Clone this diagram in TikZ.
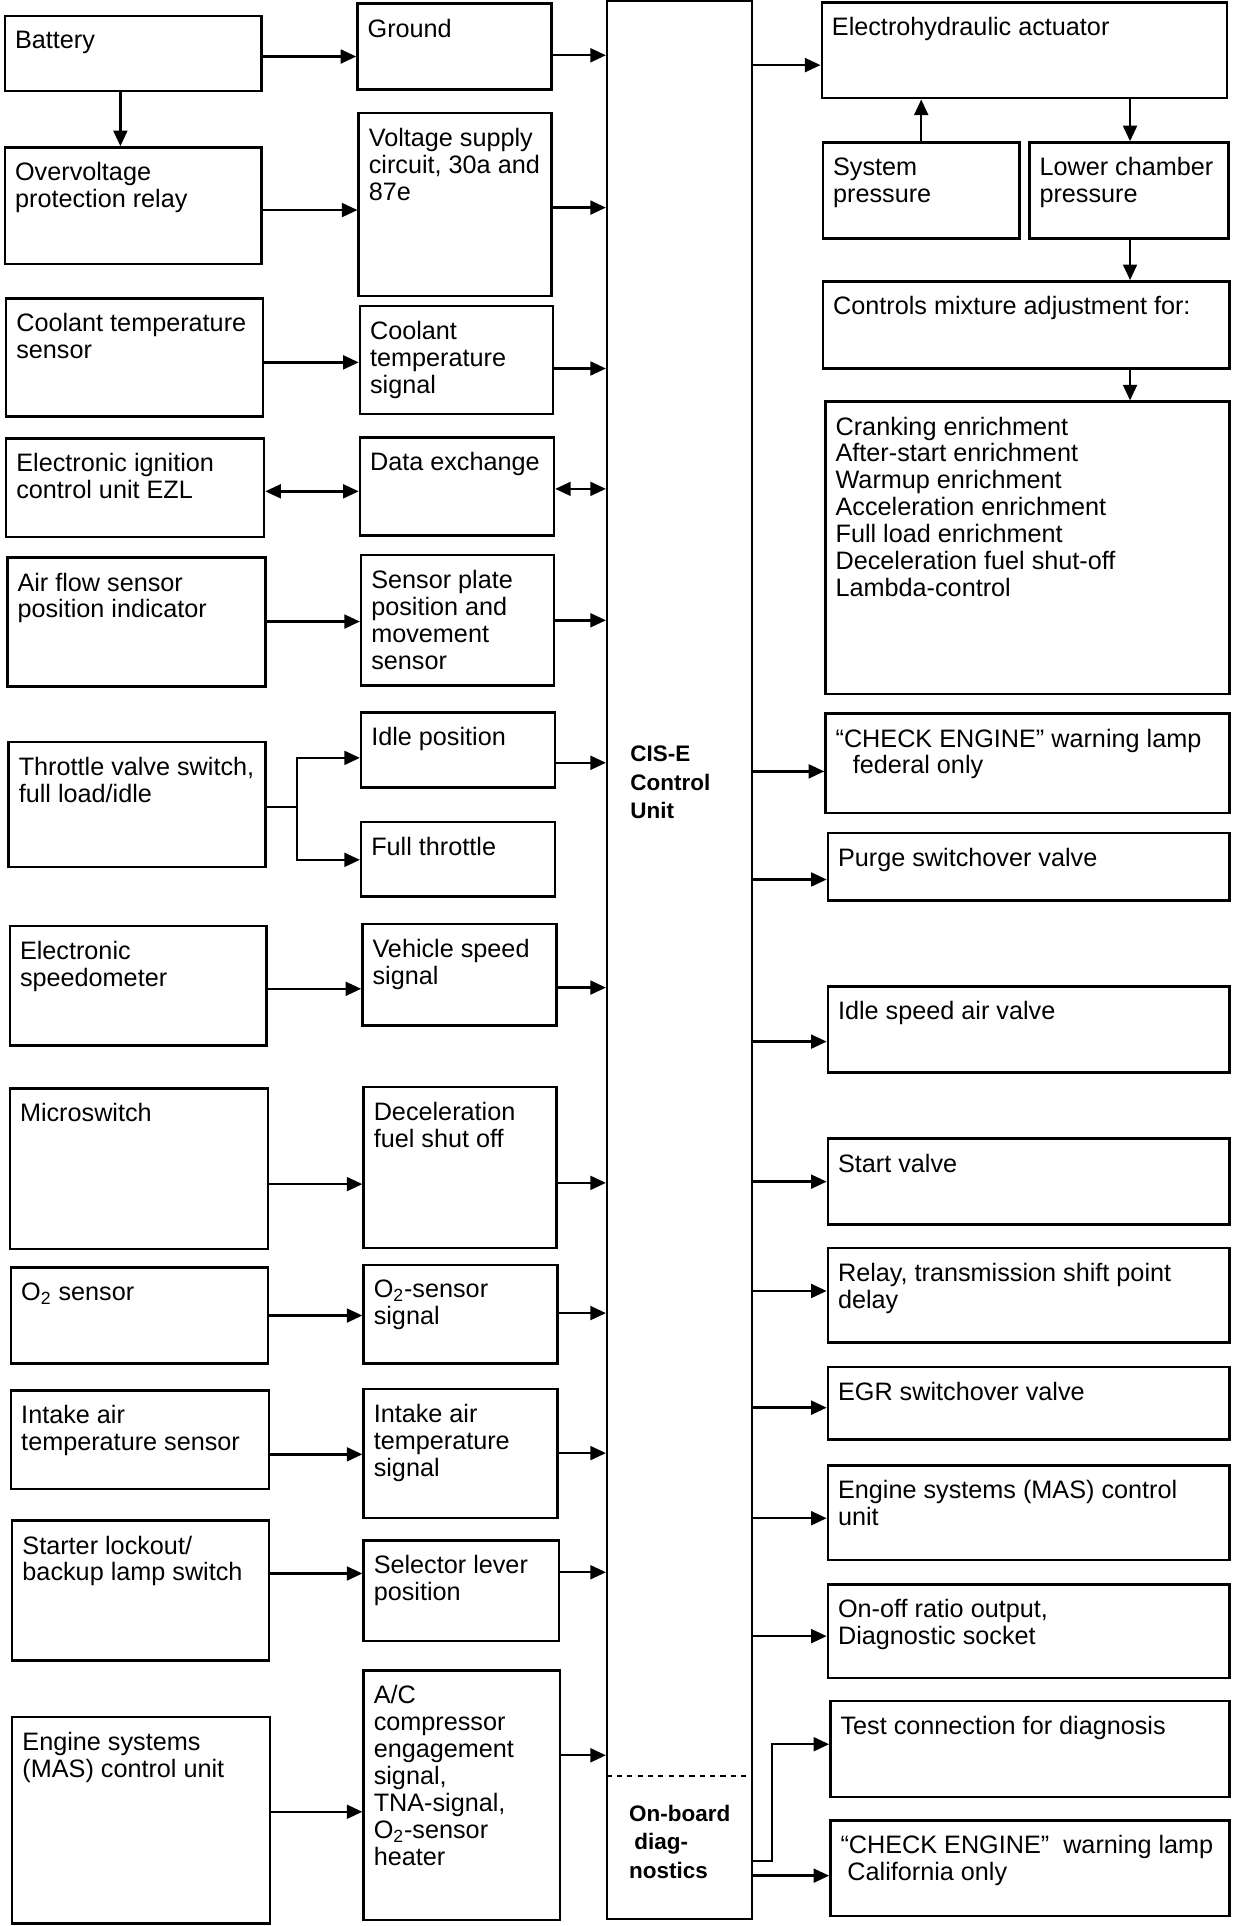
\documentclass[tikz,border=0pt]{standalone}
\usepackage{fontspec}
\setmainfont{Liberation Sans}
\usetikzlibrary{arrows.meta,fit}
\tikzset{
  blk/.style={draw,line width=1.4pt,inner sep=0pt},
  txt/.style={anchor=north west,inner sep=0pt,align=left,font=\fontsize{14.6}{15.6}\selectfont},
  btxt/.style={txt,font=\fontsize{13}{16.5}\selectfont\bfseries},
  ar/.style={-{Triangle[length=9pt,width=8pt]},line width=1.4pt},
  dar/.style={{Triangle[length=9pt,width=8pt]}-{Triangle[length=9pt,width=8pt]},line width=1.4pt},
}

\begin{document}
\begin{tikzpicture}[x=0.025cm,y=-0.025cm]
\useasboundingbox (0,0) rectangle (1016,1568);
% inputs
\node[blk,fit={(4,13)(213,74)}] (bat) {};
\node[txt] (batT) at ([shift={(9,13)}]bat.north west) {Battery};
\node[blk,fit={(4,120)(213,215)}] (ovp) {};
\node[txt] (ovpT) at ([shift={(9,13)}]ovp.north west) {Overvoltage\\protection relay};
\node[blk,fit={(5,243)(214,339)}] (cts) {};
\node[txt] (ctsT) at ([shift={(9,13)}]cts.north west) {Coolant temperature\\sensor};
\node[blk,fit={(5,357)(215,437)}] (ezl) {};
\node[txt] (ezlT) at ([shift={(9,13)}]ezl.north west) {Electronic ignition\\control unit EZL};
\node[blk,fit={(6,454)(216,559)}] (afs) {};
\node[txt] (afsT) at ([shift={(9,13)}]afs.north west) {Air flow sensor\\position indicator};
\node[blk,fit={(7,604)(216,706)}] (tvs) {};
\node[txt] (tvsT) at ([shift={(9,13)}]tvs.north west) {Throttle valve switch,\\full load/idle};
\node[blk,fit={(8,754)(217,851)}] (spd) {};
\node[txt] (spdT) at ([shift={(9,13)}]spd.north west) {Electronic\\speedometer};
\node[blk,fit={(8,886)(218,1017)}] (msw) {};
\node[txt] (mswT) at ([shift={(9,13)}]msw.north west) {Microswitch};
\node[blk,fit={(9,1032)(218,1110)}] (oxs) {};
\node[txt] (oxsT) at ([shift={(9,13)}]oxs.north west) {O\textsubscript{2} sensor};
\node[blk,fit={(9,1132)(219,1212)}] (iat) {};
\node[txt] (iatT) at ([shift={(9,13)}]iat.north west) {Intake air\\temperature sensor};
\node[blk,fit={(10,1238)(219,1352)}] (slo) {};
\node[txt] (sloT) at ([shift={(9,13)}]slo.north west) {Starter lockout/\\backup lamp switch};
\node[blk,fit={(10,1398)(220,1566)}] (mas) {};
\node[txt] (masT) at ([shift={(9,13)}]mas.north west) {Engine systems\\(MAS) control unit};
% signals
\node[blk,fit={(291,3)(449,73)}] (gnd) {};
\node[txt] (gndT) at ([shift={(9,13)}]gnd.north west) {Ground};
\node[blk,fit={(292,92)(449,241)}] (vsc) {};
\node[txt] (vscT) at ([shift={(9,13)}]vsc.north west) {Voltage supply\\circuit, 30a and\\87e};
\node[blk,fit={(293,249)(450,337)}] (cti) {};
\node[txt] (ctiT) at ([shift={(9,13)}]cti.north west) {Coolant\\temperature\\signal};
\node[blk,fit={(293,356)(451,436)}] (dex) {};
\node[txt] (dexT) at ([shift={(9,13)}]dex.north west) {Data exchange};
\node[blk,fit={(294,452)(451,558)}] (spp) {};
\node[txt] (sppT) at ([shift={(9,13)}]spp.north west) {Sensor plate\\position and\\movement\\sensor};
\node[blk,fit={(294,580)(452,641)}] (idl) {};
\node[txt] (idlT) at ([shift={(9,13)}]idl.north west) {Idle position};
\node[blk,fit={(294,669)(452,730)}] (fth) {};
\node[txt] (fthT) at ([shift={(9,13)}]fth.north west) {Full throttle};
\node[blk,fit={(295,752)(453,835)}] (vss) {};
\node[txt] (vssT) at ([shift={(9,13)}]vss.north west) {Vehicle speed\\signal};
\node[blk,fit={(296,885)(453,1016)}] (dfs) {};
\node[txt] (dfsT) at ([shift={(9,13)}]dfs.north west) {Deceleration\\fuel shut off};
\node[blk,fit={(296,1030)(454,1110)}] (osg) {};
\node[txt] (osgT) at ([shift={(9,13)}]osg.north west) {O\textsubscript{2}-sensor\\signal};
\node[blk,fit={(296,1131)(454,1236)}] (ias) {};
\node[txt] (iasT) at ([shift={(9,13)}]ias.north west) {Intake air\\temperature\\signal};
\node[blk,fit={(296,1254)(455,1336)}] (slp) {};
\node[txt] (slpT) at ([shift={(9,13)}]slp.north west) {Selector lever\\position};
\node[blk,fit={(296,1360)(456,1563)}] (acs) {};
\node[txt] (acsT) at ([shift={(9,13)}]acs.north west) {A/C\\compressor\\engagement\\signal,\\TNA-signal,\\O\textsubscript{2}-sensor\\heater};
% control unit
\node[blk,line width=1pt,fit={(494,1)(612,1562)}] (cu) {};
\node[inner sep=0pt,fit={(494,1446)(612,1562)}] (obd) {};
\draw[line width=1pt,dashed] (obd.north west) -- (obd.north east);
\node[btxt] (cuT) at (513,607) {CIS-E\\Control\\Unit};
\node[btxt] (obdT) at (512,1469) {On-board\\\hspace*{3pt}diag-\\nostics};
% outputs
\node[blk,fit={(669,2)(999,80)}] (eha) {};
\node[txt] (ehaT) at ([shift={(9,13)}]eha.north west) {Electrohydraulic actuator};
\node[blk,fit={(670,116)(830,194)}] (syp) {};
\node[txt] (sypT) at ([shift={(9,13)}]syp.north west) {System\\pressure};
\node[blk,fit={(838,116)(1000,194)}] (lcp) {};
\node[txt] (lcpT) at ([shift={(9,13)}]lcp.north west) {Lower chamber\\pressure};
\node[blk,fit={(670,229)(1001,300)}] (cma) {};
\node[txt] (cmaT) at ([shift={(9,13)}]cma.north west) {Controls mixture adjustment for:};
\node[blk,fit={(672,327)(1001,565)}] (enr) {};
\node[txt] (enrT) at ([shift={(9,13)}]enr.north west) {Cranking enrichment\\After-start enrichment\\Warmup enrichment\\Acceleration enrichment\\Full load enrichment\\Deceleration fuel shut-off\\Lambda-control};
\node[blk,fit={(672,581)(1001,662)}] (cef) {};
\node[txt] (cefT) at ([shift={(9,13)}]cef.north west) {“CHECK ENGINE” warning lamp\\\hspace*{10pt}federal only};
\node[blk,fit={(674,678)(1001,733)}] (psv) {};
\node[txt] (psvT) at ([shift={(9,13)}]psv.north west) {Purge switchover valve};
\node[blk,fit={(674,803)(1001,873)}] (isv) {};
\node[txt] (isvT) at ([shift={(9,13)}]isv.north west) {Idle speed air valve};
\node[blk,fit={(674,927)(1001,997)}] (stv) {};
\node[txt] (stvT) at ([shift={(9,13)}]stv.north west) {Start valve};
\node[blk,fit={(674,1016)(1001,1093)}] (rel) {};
\node[txt] (relT) at ([shift={(9,13)}]rel.north west) {Relay, transmission shift point\\delay};
\node[blk,fit={(674,1113)(1001,1172)}] (egr) {};
\node[txt] (egrT) at ([shift={(9,13)}]egr.north west) {EGR switchover valve};
\node[blk,fit={(674,1193)(1001,1270)}] (msc) {};
\node[txt] (mscT) at ([shift={(9,13)}]msc.north west) {Engine systems (MAS) control\\unit};
\node[blk,fit={(674,1290)(1001,1366)}] (oor) {};
\node[txt] (oorT) at ([shift={(9,13)}]oor.north west) {On-off ratio output,\\Diagnostic socket};
\node[blk,fit={(676,1385)(1001,1463)}] (tcd) {};
\node[txt] (tcdT) at ([shift={(9,13)}]tcd.north west) {Test connection for diagnosis};
\node[blk,fit={(676,1482)(1001,1560)}] (cec) {};
\node[txt] (cecT) at ([shift={(9,13)}]cec.north west) {“CHECK ENGINE”~\ warning lamp\\\hspace*{4pt}California only};
% left connectors
\draw[ar] (bat.east |- 0,46) -- (gnd.west |- 0,46);
\draw[ar] (bat.south -| 98,0) -- (ovp.north -| 98,0);
\draw[ar] (gnd.east |- 0,45) -- (cu.west |- 0,45);
\draw[ar] (ovp.east |- 0,171) -- (vsc.west |- 0,171);
\draw[ar] (vsc.east |- 0,169) -- (cu.west |- 0,169);
\draw[ar] (cts.east |- 0,295) -- (cti.west |- 0,295);
\draw[ar] (cti.east |- 0,300) -- (cu.west |- 0,300);
\draw[dar] (ezl.east |- 0,400) -- (dex.west |- 0,400);
\draw[dar] (dex.east |- 0,398) -- (cu.west |- 0,398);
\draw[ar] (afs.east |- 0,506) -- (spp.west |- 0,506);
\draw[ar] (spp.east |- 0,505) -- (cu.west |- 0,505);
\coordinate (tvsJ) at (242,657);
\draw[line width=1.4pt] (tvs.east |- tvsJ) -- (tvsJ);
\draw[ar] (tvsJ) |- (idl.west |- 0,617);
\draw[ar] (tvsJ) |- (fth.west |- 0,700);
\draw[ar] (idl.east |- 0,621) -- (cu.west |- 0,621);
\draw[ar] (spd.east |- 0,805) -- (vss.west |- 0,805);
\draw[ar] (vss.east |- 0,804) -- (cu.west |- 0,804);
\draw[ar] (msw.east |- 0,964) -- (dfs.west |- 0,964);
\draw[ar] (dfs.east |- 0,963) -- (cu.west |- 0,963);
\draw[ar] (oxs.east |- 0,1071) -- (osg.west |- 0,1071);
\draw[ar] (osg.east |- 0,1069) -- (cu.west |- 0,1069);
\draw[ar] (iat.east |- 0,1184) -- (ias.west |- 0,1184);
\draw[ar] (ias.east |- 0,1183) -- (cu.west |- 0,1183);
\draw[ar] (slo.east |- 0,1281) -- (slp.west |- 0,1281);
\draw[ar] (slp.east |- 0,1280) -- (cu.west |- 0,1280);
\draw[ar] (mas.east |- 0,1475) -- (acs.west |- 0,1475);
\draw[ar] (acs.east |- 0,1429) -- (cu.west |- 0,1429);
% right connectors
\draw[ar] (cu.east |- 0,53) -- (eha.west |- 0,53);
\draw[ar] (syp.north -| 750,0) -- (eha.south -| 750,0);
\draw[ar] (eha.south -| 920,0) -- (lcp.north -| 920,0);
\draw[ar] (lcp.south -| 920,0) -- (cma.north -| 920,0);
\draw[ar] (cma.south -| 920,0) -- (enr.north -| 920,0);
\draw[ar] (cu.east |- 0,628) -- (cef.west |- 0,628);
\draw[ar] (cu.east |- 0,716) -- (psv.west |- 0,716);
\draw[ar] (cu.east |- 0,848) -- (isv.west |- 0,848);
\draw[ar] (cu.east |- 0,962) -- (stv.west |- 0,962);
\draw[ar] (cu.east |- 0,1051) -- (rel.west |- 0,1051);
\draw[ar] (cu.east |- 0,1146) -- (egr.west |- 0,1146);
\draw[ar] (cu.east |- 0,1236) -- (msc.west |- 0,1236);
\draw[ar] (cu.east |- 0,1332) -- (oor.west |- 0,1332);
\draw[ar] (obd.east |- 0,1515) -- ++(16,0) |- (tcd.west |- 0,1420);
\draw[ar] (obd.east |- 0,1527) -- (cec.west |- 0,1527);
\end{tikzpicture}
\end{document}
